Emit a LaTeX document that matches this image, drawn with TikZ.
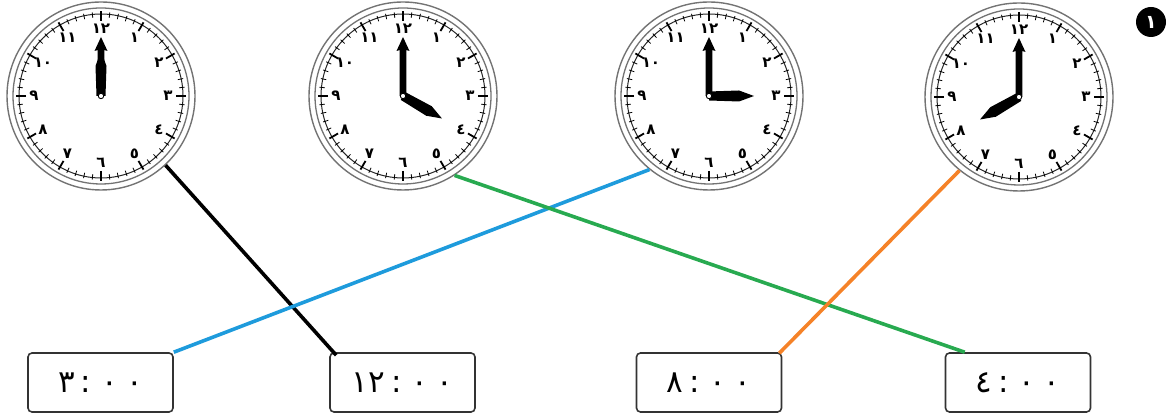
\documentclass[tikz,border=0pt]{standalone}
\usepackage{fontspec}
\newfontfamily\arfont[Script=Arabic]{DejaVu Sans}
\definecolor{lnblue}{RGB}{30,155,220}
\definecolor{lngreen}{RGB}{40,170,80}
\definecolor{lnorange}{RGB}{245,130,40}
\tikzset{
  ring/.style={circle,draw=black!55,line width=1.4pt,minimum size=188pt,inner sep=0pt},
  numlbl/.style={font=\arfont\bfseries\fontsize{15}{15}\selectfont,inner sep=0pt},
  timebox/.style={draw=black!80,line width=1.6pt,rounded corners=4pt,minimum width=145pt,minimum height=59pt,font=\arfont\fontsize{31}{31}\selectfont},
  conn/.style={line width=3.6pt},
  badge/.style={circle,fill=black,minimum size=30pt,inner sep=0pt,text=white,font=\arfont\bfseries\fontsize{19}{19}\selectfont}
}
\newcommand\myclock[4]{%
  \node[ring] (#1) at (#2,#3) {};
  \begin{scope}[shift={(#2,#3)}]
    \draw[black!55,line width=1.3pt] (0,0) circle (88pt);
    \draw[black!85,line width=1pt] (0,0) circle (82pt);
    \foreach \a in {0,6,...,354} \draw[line width=0.8pt] (\a:78.5pt) -- (\a:84pt);
    \foreach \a in {0,30,...,330} \draw[line width=1.8pt] (\a:75pt) -- (\a:85pt);
    \foreach \k/\t in {1/١,2/٢,3/٣,4/٤,5/٥,6/٦,7/٧,8/٨,9/٩,10/١٠,11/١١,12/١٢}
      \node[numlbl] at ({90-30*\k}:67pt) {\t};
    \fill[rotate=#4] (0pt,-4.5pt) -- (30pt,-5.5pt) -- (45pt,0pt) -- (30pt,5.5pt) -- (0pt,4.5pt) -- cycle;
    \fill[rotate=90] (0pt,-3.4pt) -- (46pt,-3.4pt) -- (45pt,-6.5pt) -- (59pt,0pt) -- (45pt,6.5pt) -- (46pt,3.4pt) -- (0pt,3.4pt) -- cycle;
    \filldraw[fill=white,draw=black,line width=0.9pt] (0,0) circle (2.7pt);
  \end{scope}
}
\begin{document}
\begin{tikzpicture}[x=1pt,y=1pt]
  \useasboundingbox (0,0) rectangle (1175,419);
  \myclock{c1}{101}{323}{90}
  \myclock{c2}{403}{323}{-30}
  \myclock{c3}{709}{323}{0}
  \myclock{c4}{1019}{322}{210}
  \node[badge] (n) at (1151,397) {١};
  \node[timebox] (b1) at (100.5,36.5) {٣\hspace{6pt}:\hspace{10pt}٠\hspace{8pt}٠};
  \node[timebox] (b2) at (402.5,36.5) {١٢\hspace{6pt}:\hspace{10pt}٠\hspace{8pt}٠};
  \node[timebox] (b3) at (709,36.5) {٨\hspace{6pt}:\hspace{10pt}٠\hspace{8pt}٠};
  \node[timebox] (b4) at (1018,36.5) {٤\hspace{6pt}:\hspace{10pt}٠\hspace{8pt}٠};
  \draw[conn,black] (c1.-47) -- ([xshift=7pt,yshift=-3pt]b2.north west);
  \draw[conn,lnblue] (c3.-129) -- (b1.north east);
  \draw[conn,lngreen] (c2.-57) -- ([xshift=20pt]b4.north west);
  \draw[conn,lnorange] (c4.-129) -- ([xshift=-3pt,yshift=-1pt]b3.north east);
\end{tikzpicture}
\end{document}
